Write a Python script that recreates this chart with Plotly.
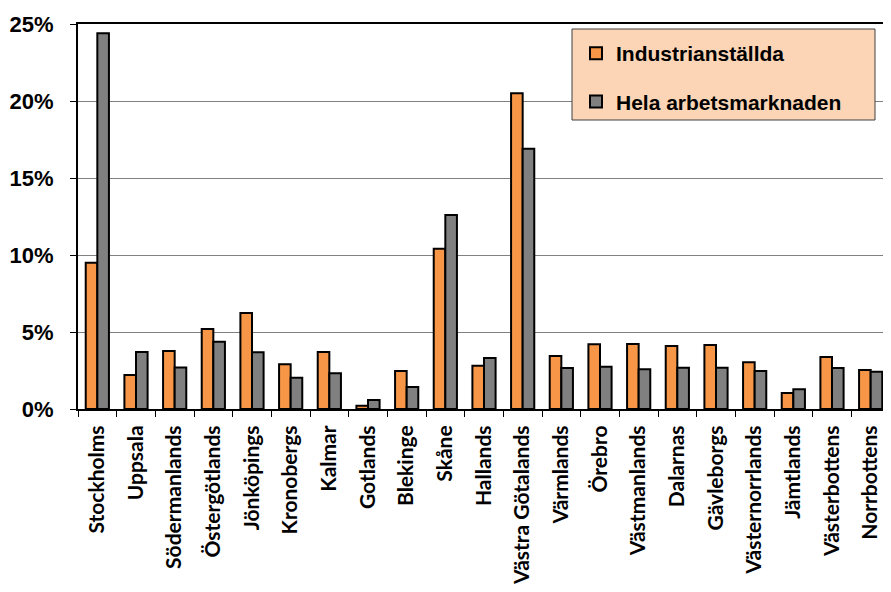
import plotly.graph_objects as go

categories = ["Stockholms", "Uppsala", "Södermanlands", "Östergötlands", "Jönköpings",
              "Kronobergs", "Kalmar", "Gotlands", "Blekinge", "Skåne", "Hallands",
              "Västra Götalands", "Värmlands", "Örebro", "Västmanlands", "Dalarnas",
              "Gävleborgs", "Västernorrlands", "Jämtlands", "Västerbottens", "Norrbottens"]
industri = [9.5, 2.2, 3.77, 5.2, 6.23, 2.9, 3.7, 0.21, 2.47, 10.4, 2.81,
            20.5, 3.44, 4.2, 4.22, 4.09, 4.16, 3.03, 1.04, 3.38, 2.53]
hela = [24.4, 3.7, 2.7, 4.37, 3.68, 2.03, 2.32, 0.58, 1.43, 12.6, 3.31,
        16.9, 2.66, 2.75, 2.58, 2.68, 2.68, 2.47, 1.28, 2.66, 2.42]
series_names = ["Industrianställda", "Hela arbetsmarknaden"]
y_ticks = [0, 0.05, 0.10, 0.15, 0.20, 0.25]

# page body has an 8px margin; compensate so the figure lands at the reference position
OFF = 8
W, H = 891 - OFF, 592 - OFF
L, R, T, B = 78 - OFF, 1, 24 - OFF, 183

fig = go.Figure()
fig.add_trace(go.Bar(x=categories, y=[v / 100 for v in industri], name=series_names[0],
                     legendgroup="a",
                     marker=dict(color="#F79646", line=dict(color="black", width=2))))
fig.add_trace(go.Bar(x=categories, y=[v / 100 for v in hela], name=series_names[1],
                     legendgroup="b",
                     marker=dict(color="#808080", line=dict(color="black", width=2))))

pw = W - L - R
ph = H - T - B
def px_x(p):
    return (p - OFF - L) / pw
def px_y(p):
    return (H + OFF - B - p) / ph

fig.add_shape(type="rect", xref="paper", yref="paper",
              x0=px_x(572), x1=px_x(875), y0=px_y(120), y1=px_y(29),
              fillcolor="#FBD5B5", line=dict(color="#404040", width=1), layer="above")

fig.update_layout(
    width=W, height=H,
    margin=dict(l=L, r=R, t=T, b=B, autoexpand=False),
    paper_bgcolor="white", plot_bgcolor="white",
    barmode="group", bargap=0.4, bargroupgap=0,
    showlegend=True,
    legend=dict(x=px_x(576), y=px_y(33), xanchor="left", yanchor="top",
                bgcolor="rgba(0,0,0,0)", borderwidth=0,
                tracegroupgap=18, itemwidth=30,
                font=dict(family="Liberation Sans, Arial", size=21, color="black", weight="bold")),
    xaxis=dict(showline=True, linecolor="black", linewidth=2, mirror=True,
               ticks="outside", tickson="boundaries", ticklen=6, tickcolor="black",
               tickangle=-90, ticklabelstandoff=6, automargin=False,
               tickfont=dict(family="Lato, Open Sans", size=21, color="black", weight="bold"),
               range=[-0.5, len(categories) - 0.5]),
    yaxis=dict(range=[0, 0.25], tickvals=y_ticks, tickformat=".0%",
               showline=True, linecolor="black", linewidth=2,
               showgrid=True, gridcolor="#808080", gridwidth=1,
               ticks="outside", ticklen=6, tickcolor="black", ticklabelstandoff=12,
               zeroline=False, automargin=False,
               tickfont=dict(family="Liberation Sans, Arial", size=22, color="black", weight="bold")),
)

fig.write_html("out.html")
